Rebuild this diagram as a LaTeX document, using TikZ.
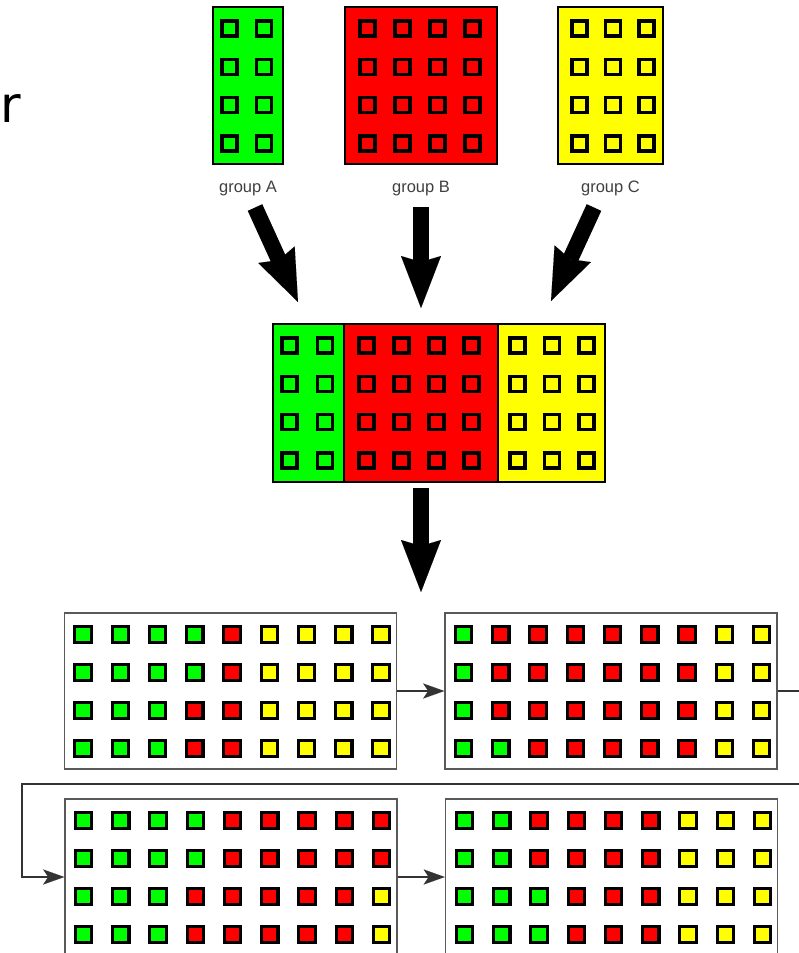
\documentclass[tikz,border=0pt]{standalone}
\usepackage{fontspec}
\setmainfont{Liberation Sans}
\newfontfamily\rfont{DejaVu Sans}
\usetikzlibrary{arrows.meta,calc}
\definecolor{cG}{RGB}{0,255,0}
\definecolor{cR}{RGB}{255,0,0}
\definecolor{cY}{RGB}{255,255,0}
% grid of outlined cells inside a group block: name, x of first centre, y of first centre, pitch, columns, fill
\newcommand\cellgrid[6]{%
  \foreach \j in {0,...,3}{%
    \foreach \i in {1,...,#5}{%
      \node[cell,fill=#6] (#1-\j-\i) at (#2+\i*#4-#4,#3+\j*38.3) {};
    }%
  }%
}
% grid of coloured chips inside a panel: name, x0, y0, rows
\newcommand\chipgrid[4]{%
  \foreach \row [count=\j from 0] in {#4}{%
    \foreach \c [count=\i from 0] in \row {%
      \node[chip,fill=c\c] (#1-\j-\i) at (#2+\i*37.25,#3+\j*38) {};
    }%
  }%
}
\begin{document}
\begin{tikzpicture}[x=1pt,y=-1pt,
  groupbox/.style={draw=black,line width=2pt,minimum height=157pt,inner sep=0pt,outer sep=0pt},
  cell/.style={draw=black,line width=3.4pt,minimum size=15pt,inner sep=0pt},
  chip/.style={draw=black,line width=3.2pt,minimum size=16.3pt,inner sep=0pt},
  panel/.style={draw=black!65,line width=1.6pt,minimum width=332pt,minimum height=156pt,inner sep=0pt,fill=white},
  glabel/.style={font=\fontsize{16.5}{18}\selectfont,text=black!75,inner sep=0pt},
  bigarrow/.style={line width=16pt,-{Stealth[length=52pt,width=40pt,inset=6pt,line width=0.01pt]}},
  flow/.style={draw=black!80,line width=1.6pt},
  flowarrow/.style={flow,-{Stealth[length=21pt,width=15pt,inset=5pt,line width=0.01pt]}}
]
\useasboundingbox (0,0) rectangle (799,953);
\fill[white] (0,0) rectangle (799,953);
\clip (0,0) rectangle (799,953);

% text at the left edge
\node[font=\rfont\fontsize{50}{60}\selectfont,anchor=base west,inner sep=0pt] (rr) at (0.5,122) {r};

% source groups
\node[groupbox,fill=cG,minimum width=70pt] (gA) at (248,85.5) {};
\node[groupbox,fill=cR,minimum width=152pt] (gB) at (421,85.5) {};
\node[groupbox,fill=cY,minimum width=105pt] (gC) at (610.5,85.5) {};
\cellgrid{cA}{229.5}{28.5}{34.5}{2}{cG}
\cellgrid{cB}{367.5}{28.5}{35}{4}{cR}
\cellgrid{cC}{579.5}{28.5}{33.5}{3}{cY}
\node[glabel,anchor=base] (labA) at (248,192) {group A};
\node[glabel,anchor=base] (labB) at (421,192) {group B};
\node[glabel,anchor=base] (labC) at (610.5,192) {group C};

% merged block
\node[groupbox,fill=cG,minimum width=71pt,minimum height=158pt] (mG) at (308.5,403) {};
\node[groupbox,fill=cR,minimum width=154pt,minimum height=158pt,line width=2.6pt] (mR) at (421,403) {};
\node[groupbox,fill=cY,minimum width=107pt,minimum height=158pt] (mY) at (551.5,403) {};
\cellgrid{dA}{289.5}{345.5}{35.5}{2}{cG}
\cellgrid{dB}{366.5}{345.5}{35}{4}{cR}
\cellgrid{dC}{517.5}{345.5}{34.5}{3}{cY}

% big arrows
\coordinate (tA) at (255,207.5);  \coordinate (hA) at (298,302);
\coordinate (tB) at (421,207);    \coordinate (hB) at (421,308);
\coordinate (tC) at (594,207.5);  \coordinate (hC) at (551,301);
\coordinate (tM) at (421,488);    \coordinate (hM) at (421,592);
\draw[bigarrow] (tA) -- (hA);
\draw[bigarrow] (tB) -- (hB);
\draw[bigarrow] (tC) -- (hC);
\draw[bigarrow] (tM) -- (hM);

% panels
\node[panel] (p1) at (230.5,691) {};
\node[panel] (p2) at (611,691) {};
\node[panel] (p3) at (231,877) {};
\node[panel] (p4) at (611.5,877) {};
\chipgrid{q1}{83}{634.5}{{G,G,G,G,R,Y,Y,Y,Y},{G,G,G,G,R,Y,Y,Y,Y},{G,G,G,R,R,Y,Y,Y,Y},{G,G,G,R,R,Y,Y,Y,Y}}
\chipgrid{q2}{463.5}{634.5}{{G,R,R,R,R,R,R,Y,Y},{G,R,R,R,R,R,R,Y,Y},{G,R,R,R,R,R,R,Y,Y},{G,G,R,R,R,R,R,Y,Y}}
\chipgrid{q3}{83.5}{820.5}{{G,G,G,G,R,R,R,R,R},{G,G,G,G,R,R,R,R,R},{G,G,G,R,R,R,R,R,Y},{G,G,G,R,R,R,R,R,Y}}
\chipgrid{q4}{464.5}{820.5}{{G,G,R,R,R,R,Y,Y,Y},{G,G,R,R,R,R,Y,Y,Y},{G,G,G,R,R,R,Y,Y,Y},{G,G,G,R,R,R,Y,Y,Y}}

% flow connectors
\coordinate (turnR) at (830,784);
\coordinate (turnL) at (22,784);
\draw[flowarrow] (p1.east) -- (p2.west);
\draw[flowarrow] (p2.east) -| (turnR) -- (turnL) |- (p3.west);
\draw[flowarrow] (p3.east) -- (p4.west);
\end{tikzpicture}
\end{document}
